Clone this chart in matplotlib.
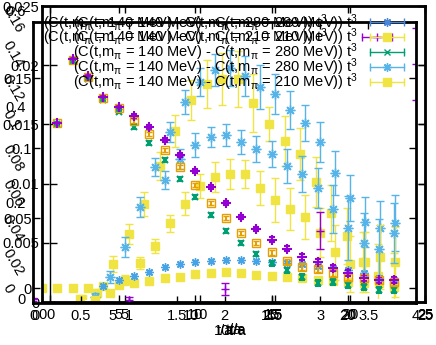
import matplotlib
matplotlib.use("Agg")
import matplotlib.pyplot as plt
from matplotlib.lines import Line2D
from matplotlib.legend_handler import HandlerLine2D
from matplotlib.ticker import FuncFormatter, MultipleLocator

plt.rcParams['font.family'] = ['Liberation Sans', 'DejaVu Sans']
plt.rcParams['mathtext.fontset'] = 'custom'
plt.rcParams['mathtext.rm'] = 'Liberation Sans'
plt.rcParams['mathtext.it'] = 'Liberation Sans:italic'
plt.rcParams['font.size'] = 10.5

# ---- data ----
# frame with y in units of 1e-3 (0 .. 0.025)
t_main = list(range(1, 24))
purple_e3 = [15.12, 20.52, 19.09, 17.31, 16.47, 15.71, 14.78, 13.68, 12.42, 11.06, 9.71, 8.36,
             7.18, 6.17, 5.24, 4.48, 3.80, 3.38, 2.87, 2.45, 2.03, 1.86, 1.86]
orange_e3 = [15.12, 20.44, 19.00, 17.23, 16.39, 15.29, 14.19, 12.84, 11.40, 9.88, 8.36, 7.09,
             5.83, 4.98, 4.22, 3.46, 2.96, 2.79, 2.45, 2.11, 2.03, 1.86, 1.69]
green_e3 = [15.03, 20.35, 18.83, 17.06, 16.05, 14.78, 13.43, 11.99, 10.39, 8.87, 7.35, 6.00,
            4.98, 4.05, 3.29, 2.70, 2.11, 1.60, 1.69, 1.44, 1.27, 1.01, 1.01]
main_err_e3 = [0.08, 0.10, 0.10, 0.11, 0.12, 0.13, 0.14, 0.15, 0.16, 0.17, 0.18, 0.19,
               0.20, 0.20, 0.21, 0.21, 0.22, 0.22, 0.23, 0.23, 0.24, 0.24, 0.25]

t_low_yellow = list(range(0, 24))
low_yellow_e3 = [1.18, 1.18, 1.18, 1.18, 1.35, 1.44, 1.60, 1.77, 2.03, 2.11, 2.36, 2.45,
                 2.53, 2.45, 2.28, 2.20, 2.11, 2.03, 1.86, 1.77, 1.69, 1.60, 1.60, 1.44]
t_low_blue = list(range(4, 24))
low_blue_e3 = [1.35, 1.86, 2.20, 2.53, 2.96, 3.21, 3.38, 3.46, 3.55, 3.55, 3.46, 3.38,
               3.29, 3.21, 3.04, 2.87, 2.70, 2.45, 2.03, 1.86]
t_mid_blue = list(range(8, 24))
mid_blue_e3 = [10.30, 12.08, 13.26, 13.94, 14.10, 13.51, 12.92, 12.50, 11.49, 10.81, 9.63,
               7.85, 6.25, 4.98, 4.48, 5.83]
mid_blue_err_e3 = [0.76, 0.84, 1.01, 0.84, 0.93, 1.01, 1.10, 1.10, 1.44, 1.52, 1.69, 2.03,
                   2.70, 2.53, 2.53, 2.53]

# frame with y 0 .. 0.5
t_up_blue = list(range(3, 24))
up_blue = [0.008, 0.042, 0.093, 0.160, 0.228, 0.287, 0.338, 0.372, 0.392, 0.395, 0.382,
           0.363, 0.351, 0.324, 0.302, 0.270, 0.218, 0.176, 0.135, 0.125, 0.133]
up_blue_err = [0.007, 0.010, 0.017, 0.017, 0.015, 0.017, 0.020, 0.024, 0.027, 0.030, 0.034,
               0.037, 0.034, 0.032, 0.030, 0.034, 0.037, 0.039, 0.042, 0.046, 0.047]
t_mid_yellow = list(range(2, 24))
mid_yellow = [0.005, 0.003, 0.015, 0.037, 0.066, 0.095, 0.133, 0.166, 0.196, 0.211, 0.216,
              0.216, 0.193, 0.172, 0.157, 0.144, 0.117, 0.084, 0.064, 0.068, 0.076, 0.068]
mid_yellow_err = [0.003, 0.003, 0.005, 0.008, 0.010, 0.012, 0.014, 0.019, 0.020, 0.025, 0.025,
                  0.024, 0.029, 0.037, 0.035, 0.037, 0.041, 0.046, 0.047, 0.051, 0.054, 0.059]

# frame with y 0 .. 0.6
t_up_yellow = list(range(3, 24))
up_yellow = [0.000, 0.013, 0.073, 0.135, 0.198, 0.277, 0.350, 0.415, 0.448, 0.458, 0.458,
             0.408, 0.365, 0.329, 0.302, 0.244, 0.179, 0.131, 0.077, 0.048, 0.025]
up_yellow_err = [0.004, 0.008, 0.017, 0.021, 0.025, 0.029, 0.033, 0.042, 0.050, 0.054, 0.058,
                 0.060, 0.035, 0.052, 0.054, 0.052, 0.058, 0.058, 0.063, 0.067, 0.071]

# frame with x 0 .. 4
x_purple = [0, 1, 2, 3, 4]
purple_bar = [-0.008, -0.0086, -0.0007, 0.041, 0.16]
purple_bar_err = [0.001, 0.002, 0.004, 0.013, 0.026]

lab280 = r'(C(t,m$_{\mathrm{π}}$ = 140 MeV) - C(t,m$_{\mathrm{π}}$ = 280 MeV)) t$^3$'
lab210 = r'(C(t,m$_{\mathrm{π}}$ = 140 MeV) - C(t,m$_{\mathrm{π}}$ = 210 MeV)) t$^3$'

PURPLE = '#9400d3'
GREEN = '#009e73'
LBLUE = '#56b4e9'
ORANGE = '#e69f00'
YELLOW = '#f0e442'
BLUE = '#4a86d8'
LOWBLUE = '#45a3e6'
ASTER = (8, 2, 0)

W, H = 436, 345
fig = plt.figure(figsize=(W / 100, H / 100), dpi=100)
fig.patch.set_facecolor('white')


def frame(l, t, r, b):
    ax = fig.add_axes([l / W, 1 - b / H, (r - l) / W, (b - t) / H])
    ax.set_facecolor('none')
    return ax


fmt = FuncFormatter(lambda v, p: '%g' % round(v, 6))
e3fmt = FuncFormatter(lambda v, p: '%g' % round(v / 1000, 6))


def style(ax, lw, pad_x=4, pad_y=2):
    for s in ax.spines.values():
        s.set_linewidth(lw)
    ax.tick_params(direction='in', top=True, right=True, length=5, width=1,
                   labelsize=10.5, pad=pad_y)
    ax.tick_params(axis='x', pad=pad_x)


def errleg(color, marker, ms, mfc=None):
    cap = Line2D([], [], color=color, lw=1, marker='|', markersize=6)
    mk = Line2D([], [], ls='none', color=color, marker=marker, markersize=ms,
                mfc=mfc if mfc else color)
    return (cap, mk), cap


# rotated tick labels frame
axd = frame(35, 6, 425, 302)
axd.set_ylim(-0.0097, 0.1605)
axd.yaxis.set_major_locator(MultipleLocator(0.02))
axd.yaxis.set_major_formatter(fmt)
axd.set_xticks([])
for s in axd.spines.values():
    s.set_visible(False)
axd.tick_params(axis='y', length=0, pad=21, labelsize=10.5)
for lbl in axd.get_yticklabels():
    lbl.set_rotation(-60)
    lbl.set_rotation_mode('anchor')
    lbl.set_ha('left')
    lbl.set_va('center')

# 0 .. 0.6 frame (no border)
axc = frame(35, 11, 425, 299)
axc.set_xlim(0, 25)
axc.set_ylim(0, 0.6)
axc.xaxis.set_major_locator(MultipleLocator(5))
axc.yaxis.set_major_locator(MultipleLocator(0.2))
axc.yaxis.set_major_formatter(fmt)
for s in axc.spines.values():
    s.set_visible(False)
axc.tick_params(length=0, labelsize=10.5)
axc.tick_params(axis='y', pad=7)
axc.tick_params(axis='x', pad=7)
axc.errorbar(t_up_yellow, up_yellow, yerr=up_yellow_err, fmt='s', color=YELLOW, ms=6,
             ecolor=YELLOW, elinewidth=1, capsize=3)
axc.set_xlabel('10t/a', labelpad=1)

# 0 .. 0.5 frame (thin border)
axr = frame(50, 6, 425, 302)
axr.set_xlim(0, 25)
axr.set_ylim(0, 0.5)
axr.xaxis.set_major_locator(MultipleLocator(5))
axr.yaxis.set_major_locator(MultipleLocator(0.1))
axr.set_yticklabels([])
style(axr, 1.0)
axr.errorbar(t_up_blue, up_blue, yerr=up_blue_err, fmt='none', ecolor=LBLUE,
             elinewidth=1, capsize=3)
axr.plot(t_up_blue, up_blue, ls='none', marker=ASTER, color=LBLUE, ms=7, mew=1)
axr.errorbar(t_mid_yellow, mid_yellow, yerr=mid_yellow_err, fmt='s', color=YELLOW, ms=6,
             ecolor=YELLOW, elinewidth=1, capsize=3)
axr.set_xlabel('t/a', labelpad=1)

# 0 .. 0.025 frame
axq = frame(42, 6, 425, 302)
axq.set_xlim(0, 25)
axq.set_ylim(0, 25)
axq.xaxis.set_major_locator(MultipleLocator(5))
axq.yaxis.set_major_locator(MultipleLocator(5))
axq.yaxis.set_major_formatter(e3fmt)
style(axq, 2.0)
axq.plot(t_low_yellow, low_yellow_e3, ls='none', marker='s', color=YELLOW, ms=6)
axq.plot(t_low_blue, low_blue_e3, ls='none', marker=ASTER, color=LOWBLUE, ms=6, mew=1)
axq.errorbar(t_mid_blue, mid_blue_e3, yerr=mid_blue_err_e3, fmt='none', ecolor=LBLUE,
             elinewidth=1, capsize=3)
axq.plot(t_mid_blue, mid_blue_e3, ls='none', marker=ASTER, color=LBLUE, ms=7, mew=1)
axq.errorbar(t_main, green_e3, yerr=main_err_e3, fmt='x', color=GREEN, ms=5, mew=1.5,
             capsize=2.5)
axq.errorbar(t_main, orange_e3, yerr=main_err_e3, fmt='s', color=ORANGE, mfc='none',
             ms=6, mew=1, capsize=2.5)
axq.errorbar(t_main, purple_e3, yerr=main_err_e3, fmt='+', color=PURPLE, ms=7, mew=1.5,
             capsize=2)
axq.set_xlabel('t/a', labelpad=1)

# 0 .. 4 frame
axp = frame(33, 22, 416, 303)
axp.set_xlim(0, 4)
axp.set_ylim(-0.0107, 0.19)
axp.xaxis.set_major_locator(MultipleLocator(0.5))
axp.xaxis.set_major_formatter(fmt)
axp.yaxis.set_major_locator(MultipleLocator(0.05))
axp.yaxis.set_major_formatter(fmt)
style(axp, 2.0, pad_y=1)
axp.errorbar(x_purple, purple_bar, yerr=purple_bar_err, fmt='+', color=PURPLE, ms=6,
             elinewidth=1, capsize=3)
axp.set_xlabel('t/a', labelpad=1)

# keys
h_blue, c_blue = errleg(BLUE, ASTER, 6)
h_y1, c_y1 = errleg(YELLOW, 's', 6)
h_g, c_g = errleg(GREEN, 'x', 5)
h_lb, c_lb = errleg(LBLUE, ASTER, 6)
h_y2, c_y2 = errleg(YELLOW, 's', 6)
hmap = {c: HandlerLine2D(numpoints=2) for c in [c_blue, c_y1, c_g, c_lb, c_y2]}
leg1 = axp.legend([h_blue, h_y1, h_g, h_lb, h_y2], [lab280, lab210, lab280, lab280, lab210],
                  handler_map=hmap, loc='upper right', bbox_to_anchor=(408 / W, 1 - 12 / H),
                  bbox_transform=fig.transFigure, frameon=False, markerfirst=False,
                  borderaxespad=0, borderpad=0, handlelength=2.9, handletextpad=0.55,
                  labelspacing=-0.46, fontsize=10.5)

h_p, c_p = errleg(PURPLE, '+', 6)
h_none = Line2D([], [], ls='none')
leg2 = axq.legend([h_none, h_p], [lab280, lab210], handler_map={c_p: HandlerLine2D(numpoints=2)},
                  loc='upper left', bbox_to_anchor=(43 / W, 1 - 12 / H),
                  bbox_transform=fig.transFigure, frameon=False, markerfirst=False,
                  borderaxespad=0, borderpad=0, handlelength=2.7, handletextpad=2.0,
                  labelspacing=-0.46, fontsize=10.5)

fig.savefig('out.png', dpi=100, facecolor='white')
